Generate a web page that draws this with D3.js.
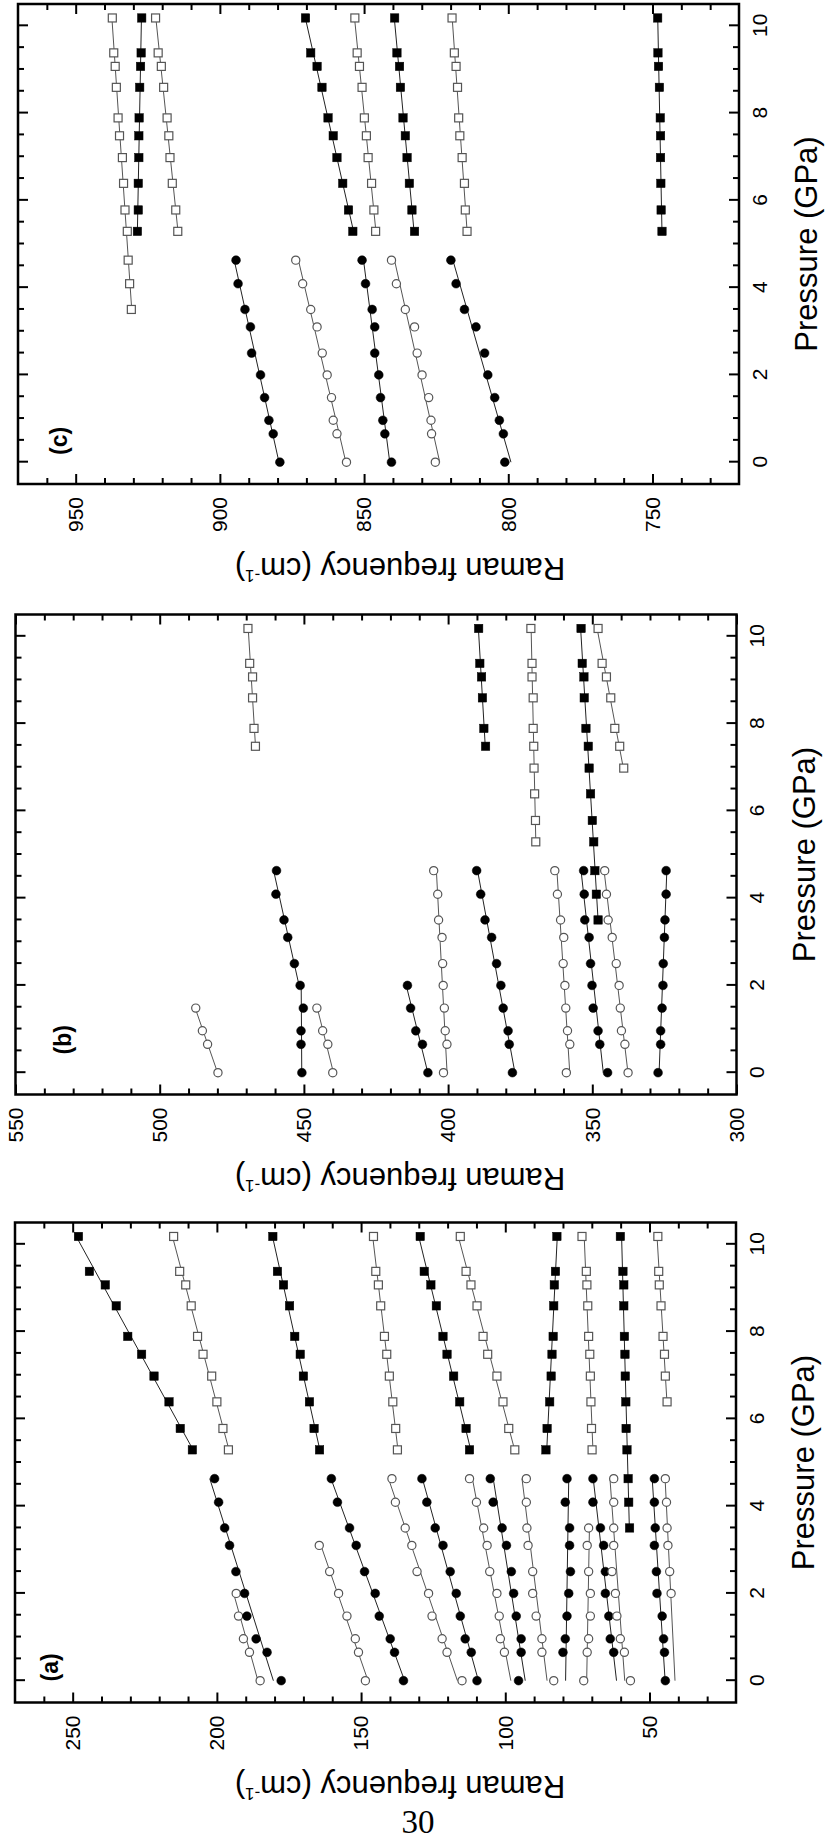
<!DOCTYPE html>
<html>
<head>
<meta charset="utf-8">
<script src="https://cdn.jsdelivr.net/npm/d3@7"></script>
<style>
  body { margin: 0; background: #fff; }
  svg text { font-family: "Liberation Sans", Arial, Helvetica, sans-serif; fill: #000; }
</style>
</head>
<body>
<div id="chart"></div>
<script>
// Pressures (GPa) at which the spectra were recorded
var pressures = [0, 0.65, 0.96, 1.48, 2.0, 2.5, 3.1, 3.5, 4.09, 4.63,
                 5.29, 5.78, 6.39, 6.98, 7.48, 7.89, 8.59, 9.07, 9.38, 10.18];
var pressureDomain = [-0.5, 10.5];
var pressureTicks = [0, 2, 4, 6, 8, 10];

// Frequency axes of the three panels
var freqDomainA = [20, 270];
var freqTicksA = [50, 100, 150, 200, 250];
var freqDomainB = [300, 550];
var freqTicksB = [300, 350, 400, 450, 500, 550];
var freqDomainC = [720, 970];
var freqTicksC = [750, 800, 850, 900, 950];

// Each mode: symbol, filled or open, index of its first pressure, frequencies (cm-1)
// lineFrom = pressure where the fitted line starts, breakAt = point where the fit changes
var seriesA = [
  { shape: "circle", filled: false, from: 0, freq: [185.0, 188.7, 190.8, 192.5, 193.3] },
  { shape: "circle", filled: true,  from: 0, freq: [177.7, 182.6, 186.4, 189.6, 190.4, 193.4, 195.6, 197.3, 199.4, 200.8] },
  { shape: "circle", filled: false, from: 0, freq: [148.5, 150.9, 152.0, 154.9, 157.8, 160.9, 164.5] },
  { shape: "circle", filled: true,  from: 0, freq: [135.3, 138.4, 139.9, 143.7, 145.1, 148.8, 151.7, 154.0, 158.2, 160.3] },
  { shape: "circle", filled: false, from: 0, freq: [115.0, 120.2, 121.9, 125.4, 126.6, 130.6, 132.4, 134.7, 138.1, 139.3] },
  { shape: "circle", filled: true,  from: 0, freq: [109.8, 111.8, 113.9, 115.6, 117.0, 119.1, 121.6, 124.3, 127.2, 128.9] },
  { shape: "circle", filled: false, from: 1, lineFrom: 0, freq: [100.3, 101.7, 102.1, 102.9, 105.4, 106.3, 107.5, 110.0, 112.4] },
  { shape: "circle", filled: true,  from: 0, freq: [95.4, 94.5, 94.5, 96.2, 97.1, 97.9, 99.6, 101.1, 104.2, 105.2] },
  { shape: "circle", filled: false, from: 0, freq: [83.2, 87.3, 87.3, 89.3, 90.5, 90.5, 92.1, 92.5, 92.7, 92.7] },
  { shape: "circle", filled: true,  from: 1, lineFrom: 0, freq: [80.0, 79.2, 78.6, 78.0, 77.4, 77.7, 77.7, 79.2, 78.6] },
  { shape: "circle", filled: false, from: 0, freq: [72.8, 71.6, 71.1, 70.5, 70.5, 71.1, 71.6, 71.1] },
  { shape: "circle", filled: true,  from: 1, lineFrom: 0, freq: [62.4, 63.6, 64.1, 65.3, 65.3, 65.9, 67.0, 69.6, 69.6] },
  { shape: "circle", filled: false, from: 0, freq: [56.6, 58.7, 60.1, 61.3, 61.8, 63.0, 62.4, 62.4, 62.4, 62.4] },
  { shape: "circle", filled: true,  from: 0, freq: [44.5, 44.8, 45.1, 45.6, 47.4, 47.6, 48.3, 48.0, 48.3, 48.3] },
  { shape: "circle", filled: false, from: 4, lineFrom: 0, freq: [42.5, 43.0, 43.6, 43.9, 44.1, 44.5] },
  { shape: "square", filled: true,  from: 10, freq: [208.5, 212.7, 216.6, 221.8, 226.1, 230.9, 234.9, 238.7, 244.2, 248.0] },
  { shape: "square", filled: false, from: 10, freq: [196.0, 197.9, 200.0, 201.8, 204.8, 206.7, 208.9, 210.8, 212.9, 215.0] },
  { shape: "square", filled: true,  from: 10, freq: [164.4, 166.3, 167.9, 170.0, 171.1, 173.0, 174.8, 176.9, 179.0, 180.6] },
  { shape: "square", filled: false, from: 10, freq: [137.4, 138.0, 139.0, 140.2, 141.1, 141.9, 143.2, 144.0, 144.9, 145.7] },
  { shape: "square", filled: true,  from: 10, freq: [112.4, 113.6, 115.8, 117.9, 120.2, 121.6, 123.9, 125.8, 128.1, 129.5] },
  { shape: "square", filled: false, from: 10, freq: [96.7, 98.8, 100.8, 102.9, 106.1, 107.7, 109.8, 111.9, 113.6, 115.6] },
  { shape: "square", filled: true,  from: 10, freq: [85.9, 85.5, 84.6, 84.1, 83.8, 83.4, 83.2, 83.0, 82.6, 82.1] },
  { shape: "square", filled: false, from: 10, freq: [69.9, 70.1, 70.3, 70.5, 70.7, 71.1, 71.4, 71.7, 71.9, 73.4] },
  { shape: "square", filled: true,  from: 7,  freq: [56.9, 57.2, 57.4, 57.8, 58.1, 58.2, 58.4, 58.5, 58.7, 58.9, 58.9, 59.2, 60.1] },
  { shape: "square", filled: false, from: 12, freq: [43.9, 44.5, 44.8, 45.3, 46.0, 46.6, 46.8, 47.1] }
];

var seriesB = [
  { shape: "circle", filled: false, from: 0, freq: [479.8, 483.4, 485.2, 487.5] },
  { shape: "circle", filled: true,  from: 0, breakAt: 4, freq: [450.7, 451.0, 451.0, 450.2, 451.3, 453.3, 455.6, 456.9, 459.7, 459.5] },
  { shape: "circle", filled: false, from: 0, freq: [440.0, 441.7, 443.5, 445.5] },
  { shape: "circle", filled: true,  from: 0, freq: [407.0, 408.9, 411.2, 413.0, 414.1] },
  { shape: "circle", filled: false, from: 0, freq: [401.6, 400.4, 401.0, 401.3, 401.7, 401.9, 402.1, 403.3, 403.6, 405.0] },
  { shape: "circle", filled: true,  from: 0, freq: [377.7, 378.8, 379.2, 380.9, 381.7, 383.2, 384.9, 387.2, 388.7, 390.1] },
  { shape: "circle", filled: false, from: 0, freq: [359.0, 357.8, 358.6, 359.2, 359.5, 360.1, 359.9, 361.0, 362.1, 363.0] },
  { shape: "circle", filled: true,  from: 0, freq: [344.7, 347.4, 348.0, 349.7, 350.1, 350.6, 351.1, 352.6, 352.8, 353.0] },
  { shape: "circle", filled: false, from: 0, freq: [337.6, 338.7, 339.9, 340.3, 340.7, 341.7, 343.1, 344.5, 345.1, 345.7] },
  { shape: "circle", filled: true,  from: 0, freq: [327.2, 326.3, 326.3, 325.8, 325.5, 325.4, 325.0, 324.8, 324.4, 324.4] },
  { shape: "square", filled: false, from: 14, freq: [466.8, 467.3, 467.8, 467.8, 468.8, 469.4] },
  { shape: "square", filled: true,  from: 14, freq: [387.0, 387.6, 388.1, 388.4, 389.0, 389.4] },
  { shape: "square", filled: false, from: 10, freq: [369.6, 369.7, 370.0, 370.2, 370.3, 370.5, 370.5, 370.9, 370.9, 371.3] },
  { shape: "square", filled: true,  from: 7,  freq: [348.0, 348.6, 349.1, 349.5, 350.0, 350.6, 351.1, 351.4, 352.2, 352.8, 352.9, 353.5, 353.9] },
  { shape: "square", filled: false, from: 13, freq: [339.1, 340.5, 342.2, 343.6, 345.1, 346.6, 348.0] }
];

var seriesC = [
  { shape: "circle", filled: true,  from: 0, freq: [879.2, 881.5, 883.0, 884.5, 885.9, 889.0, 889.4, 891.3, 893.7, 894.4] },
  { shape: "circle", filled: false, from: 0, freq: [856.1, 859.4, 860.7, 861.3, 862.8, 864.5, 866.3, 868.5, 871.3, 873.7] },
  { shape: "circle", filled: true,  from: 0, freq: [840.5, 842.8, 843.5, 844.3, 844.9, 846.3, 846.3, 847.2, 849.5, 850.7] },
  { shape: "circle", filled: false, from: 0, freq: [825.3, 826.6, 826.8, 827.6, 829.9, 831.6, 832.5, 835.7, 838.8, 840.5] },
  { shape: "circle", filled: true,  from: 0, freq: [801.2, 801.7, 803.1, 804.7, 807.1, 808.2, 811.2, 815.2, 818.1, 819.9] },
  { shape: "square", filled: false, from: 7,  freq: [930.7, 931.3, 931.8, 932.1, 932.9, 933.4, 933.8, 934.8, 935.3, 935.9, 936.3, 936.8, 937.3] },
  { shape: "square", filled: true,  from: 10, freq: [928.6, 928.3, 928.3, 928.1, 928.1, 928.0, 927.8, 927.5, 927.3, 927.1] },
  { shape: "square", filled: false, from: 10, freq: [914.6, 915.3, 916.5, 917.3, 917.7, 918.3, 919.5, 920.3, 921.4, 922.3] },
  { shape: "square", filled: true,  from: 10, freq: [853.9, 855.4, 857.4, 859.4, 860.7, 862.5, 864.6, 866.3, 868.5, 870.3] },
  { shape: "square", filled: false, from: 10, freq: [846.0, 846.6, 847.4, 848.6, 849.2, 849.9, 850.7, 851.6, 852.4, 853.2] },
  { shape: "square", filled: true,  from: 10, freq: [832.5, 833.4, 834.3, 835.1, 835.7, 836.5, 837.4, 837.7, 838.6, 839.4] },
  { shape: "square", filled: false, from: 10, freq: [814.3, 814.9, 815.2, 816.0, 816.8, 817.2, 817.6, 818.1, 818.7, 819.5] },
  { shape: "square", filled: true,  from: 10, freq: [746.7, 747.0, 747.1, 747.2, 747.2, 747.3, 747.6, 747.9, 748.1, 748.2] }
];

// The figure sits on the page turned a quarter turn, so every panel is drawn
// as an ordinary plot (pressure along x) and then rotated by -90 degrees
var W = 480, H = 721;
var panels = [
  { label: "(c)", left: 18,   bottom: 484,    domain: freqDomainC, ticks: freqTicksC, series: seriesC, tag: [29, 49] },
  { label: "(b)", left: 15.5, bottom: 1094.5, domain: freqDomainB, ticks: freqTicksB, series: seriesB, tag: [40, 55] },
  { label: "(a)", left: 15,   bottom: 1702.5, domain: freqDomainA, ticks: freqTicksA, series: seriesA, tag: [21, 43] }
];

var svg = d3.select("#chart")
    .append("svg")
    .attr("width", 826)
    .attr("height", 1845);

// least squares straight line through a set of [pressure, frequency] points
function fitLine(pts) {
    var mx = d3.mean(pts, function (d) { return d[0]; });
    var my = d3.mean(pts, function (d) { return d[1]; });
    var sxy = d3.sum(pts, function (d) { return (d[0] - mx) * (d[1] - my); });
    var sxx = d3.sum(pts, function (d) { return (d[0] - mx) * (d[0] - mx); });
    var b = sxx ? sxy / sxx : 0;
    return function (p) { return my + b * (p - mx); };
}

function styleAxis(sel, fontSize) {
    sel.select(".domain").remove();
    sel.selectAll(".tick line").attr("stroke", "#000").attr("stroke-width", 2);
    sel.selectAll(".tick text")
        .attr("font-size", fontSize)
        .style("font-family", "'Liberation Sans', Arial, sans-serif")
        .attr("fill", "#000");
}

panels.forEach(function (p) {
    var g = svg.append("g")
        .attr("transform", "translate(" + p.left + "," + p.bottom + ") rotate(-90)");

    var x = d3.scaleLinear().domain(pressureDomain).range([0, W]);
    var y = d3.scaleLinear().domain(p.domain).range([H, 0]);

    var minorP = d3.range(0.5, 10.01, 0.5).filter(function (v) { return v % 2 !== 0; });
    var minorF = d3.range(p.domain[0] + 10, p.domain[1], 10).filter(function (v) { return v % 50 !== 0; });

    // inward ticks on all four sides, labels only bottom and left
    g.append("g").attr("transform", "translate(0," + H + ")")
        .call(d3.axisBottom(x).tickValues(pressureTicks).tickSize(-10).tickPadding(13).tickFormat(d3.format("d")))
        .call(styleAxis, 21);
    g.append("g").attr("transform", "translate(0," + H + ")")
        .call(d3.axisBottom(x).tickValues(minorP).tickSize(-6).tickFormat(""))
        .call(styleAxis, 21);
    g.append("g")
        .call(d3.axisTop(x).tickValues(pressureTicks).tickSize(-10).tickFormat(""))
        .call(styleAxis, 21);
    g.append("g")
        .call(d3.axisTop(x).tickValues(minorP).tickSize(-6).tickFormat(""))
        .call(styleAxis, 21);
    g.append("g")
        .call(d3.axisLeft(y).tickValues(p.ticks).tickSize(-10).tickPadding(13).tickFormat(d3.format("d")))
        .call(styleAxis, 21);
    g.append("g")
        .call(d3.axisLeft(y).tickValues(minorF).tickSize(-6).tickFormat(""))
        .call(styleAxis, 21);
    g.append("g").attr("transform", "translate(" + W + ",0)")
        .call(d3.axisRight(y).tickValues(p.ticks).tickSize(-10).tickFormat(""))
        .call(styleAxis, 21);
    g.append("g").attr("transform", "translate(" + W + ",0)")
        .call(d3.axisRight(y).tickValues(minorF).tickSize(-6).tickFormat(""))
        .call(styleAxis, 21);

    // frame
    g.append("rect")
        .attr("width", W)
        .attr("height", H)
        .attr("fill", "none")
        .attr("stroke", "#000")
        .attr("stroke-width", 2.5);

    // fitted lines under the symbols
    p.series.forEach(function (s) {
        var pts = s.freq.map(function (f, i) { return [pressures[s.from + i], f]; });
        var parts = s.breakAt ? [pts.slice(0, s.breakAt + 1), pts.slice(s.breakAt)] : [pts];
        parts.forEach(function (part, k) {
            var f = fitLine(part);
            var p0 = (k === 0 && s.lineFrom !== undefined) ? s.lineFrom : part[0][0];
            var p1 = part[part.length - 1][0];
            g.append("line")
                .attr("x1", x(p0)).attr("y1", y(f(p0)))
                .attr("x2", x(p1)).attr("y2", y(f(p1)))
                .attr("stroke", s.filled ? "#222" : "#555")
                .attr("stroke-width", 1);
        });
    });

    // symbols
    p.series.forEach(function (s) {
        var pts = s.freq.map(function (f, i) { return [pressures[s.from + i], f]; });
        if (s.shape === "circle") {
            g.selectAll(null)
                .data(pts)
                .enter()
                .append("circle")
                .attr("cx", function (d) { return x(d[0]); })
                .attr("cy", function (d) { return y(d[1]); })
                .attr("r", s.filled ? 4.4 : 4.1)
                .attr("fill", s.filled ? "#000" : "#fff")
                .attr("stroke", s.filled ? "#000" : "#555")
                .attr("stroke-width", s.filled ? 0.5 : 1.2);
        } else {
            var side = s.filled ? 8.4 : 8;
            g.selectAll(null)
                .data(pts)
                .enter()
                .append("rect")
                .attr("x", function (d) { return x(d[0]) - side / 2; })
                .attr("y", function (d) { return y(d[1]) - side / 2; })
                .attr("width", side)
                .attr("height", side)
                .attr("fill", s.filled ? "#000" : "#fff")
                .attr("stroke", s.filled ? "#000" : "#555")
                .attr("stroke-width", s.filled ? 0.5 : 1.2);
        }
    });

    // axis titles
    g.append("text")
        .attr("x", W / 2)
        .attr("y", H + 78)
        .attr("text-anchor", "middle")
        .attr("font-size", 31)
        .text("Pressure (GPa)");

    var yTitle = g.append("text")
        .attr("transform", "translate(-73.5," + (400 - p.left) + ") rotate(-90)")
        .attr("text-anchor", "middle")
        .attr("font-size", 31);
    yTitle.append("tspan").text("Raman frequency (cm");
    yTitle.append("tspan").attr("dy", -12).attr("font-size", 17).text("-1");
    yTitle.append("tspan").attr("dy", 12).text(")");

    // panel tag
    g.append("text")
        .attr("x", p.tag[0])
        .attr("y", p.tag[1])
        .attr("font-size", 23)
        .attr("font-weight", "bold")
        .text(p.label);
});

// page number
svg.append("text")
    .attr("x", 418)
    .attr("y", 1833)
    .attr("text-anchor", "middle")
    .style("font-family", "'Liberation Serif', 'Times New Roman', serif")
    .attr("font-size", 33)
    .text("30");
</script>
</body>
</html>
